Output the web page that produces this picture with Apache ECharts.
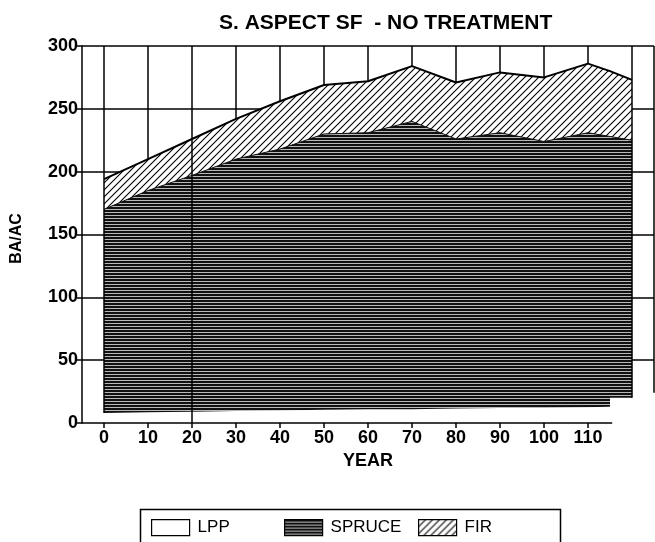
<!DOCTYPE html>
<html><head><meta charset="utf-8">
<script src="https://cdn.jsdelivr.net/npm/echarts@6/dist/echarts.min.js"></script>
<style>html,body{margin:0;padding:0;background:#fff}#c{width:655px;height:542px}</style>
</head><body><div id="c"></div>
<script>
// ---- data ----
const years     = [0, 10, 20, 30, 40, 50, 60, 70, 80, 90, 100, 110, 115, 115, 120];
const lppTop    = [8, 8.5, 9, 9.5, 10, 10.5, 11, 11, 11.5, 12, 12, 12.5, 13, 20, 20];
const spruceTop = [170, 185, 197, 210, 218, 230, 231, 240, 226, 231, 224, 231, 228, 228, 225];
const firTop    = [194, 210, 226, 242, 256, 269, 272, 284, 271, 279, 275, 286, 280, 280, 273];
const xTickLabels = [0, 10, 20, 30, 40, 50, 60, 70, 80, 90, 100, 110];
const gridYears   = [10, 30, 40, 50, 60, 70, 80, 90, 100, 110];
const seriesNames = ['LPP', 'SPRUCE', 'FIR'];

function pairs(v) { return years.map((y, i) => [y, v[i]]); }

function sprucePattern() {
  const c = document.createElement('canvas'); c.width = 4; c.height = 3;
  const g = c.getContext('2d');
  g.fillStyle = '#b8b8b8'; g.fillRect(0, 0, 4, 3);
  g.fillStyle = '#111'; g.fillRect(0, 0, 4, 2);
  return c;
}
function hatchPattern() {
  const s = 7;
  const c = document.createElement('canvas'); c.width = s; c.height = s;
  const g = c.getContext('2d');
  g.fillStyle = '#fff'; g.fillRect(0, 0, s, s);
  g.strokeStyle = '#000'; g.lineWidth = 1.1;
  g.beginPath();
  g.moveTo(-1, s + 1); g.lineTo(s + 1, -1);
  g.moveTo(-1, 1); g.lineTo(1, -1);
  g.moveTo(s - 1, s + 1); g.lineTo(s + 1, s - 1);
  g.stroke();
  return c;
}
const spruceFill = { image: sprucePattern(), repeat: 'repeat' };
const firFill = { image: hatchPattern(), repeat: 'repeat' };

const chart = echarts.init(document.getElementById('c'), null, { renderer: 'canvas' });
const font = 'Liberation Sans, Arial, Helvetica, sans-serif';

function legendFor(name, left, fill) {
  return {
    left: left, top: 514, itemWidth: 38, itemHeight: 16, itemGap: 0, selectedMode: false,
    textStyle: { fontFamily: font, fontSize: 17, color: '#000', padding: [0, 0, 0, 3] },
    data: [{ name: name, icon: 'rect', itemStyle: { color: fill, borderColor: '#000', borderWidth: 1.2 } }]
  };
}

const last = years.length - 1;

chart.setOption({
  animation: false,
  backgroundColor: '#fff',
  title: {
    text: 'S. ASPECT SF  - NO TREATMENT', left: 214, top: 8,
    textStyle: { fontFamily: font, fontSize: 21, fontWeight: 'bold', color: '#000' }
  },
  grid: { left: 82, right: 1, top: 46, bottom: 119, outerBoundsMode: 'none', containLabel: false },
  legend: [
    legendFor(seriesNames[0], 146, '#fff'),
    legendFor(seriesNames[1], 279, spruceFill),
    legendFor(seriesNames[2], 413, firFill)
  ],
  graphic: [{
    type: 'rect', left: 138, top: 507, shape: { width: 420, height: 60 },
    style: { fill: 'none', stroke: '#000', lineWidth: 1.5 }, silent: true
  }],
  xAxis: {
    type: 'value', min: -5, max: 125,
    name: 'YEAR', nameLocation: 'middle', nameGap: 29,
    nameTextStyle: { fontFamily: font, fontSize: 18, fontWeight: 'bold', color: '#000' },
    axisLine: { show: false },
    axisTick: { show: true, customValues: xTickLabels, length: 5, lineStyle: { color: '#000', width: 1.5 } },
    axisLabel: { customValues: xTickLabels, fontFamily: font, fontSize: 18, fontWeight: 'bold', color: '#000', margin: 6 },
    splitLine: { show: false }
  },
  yAxis: {
    type: 'value', min: 0, max: 300, interval: 50,
    name: 'BA/AC', nameLocation: 'middle', nameGap: 57, nameRotate: 90,
    nameTextStyle: { fontFamily: font, fontSize: 16, fontWeight: 'bold', color: '#000', padding: [0, 8, 0, 0] },
    axisLine: { show: true, onZero: false, lineStyle: { color: '#000', width: 1.5 } },
    axisTick: { show: true, length: 5, lineStyle: { color: '#000', width: 1.5 } },
    axisLabel: { fontFamily: font, fontSize: 18, fontWeight: 'bold', color: '#000', margin: 4 },
    splitLine: { show: true, showMinLine: false, lineStyle: { color: '#000', width: 1.5 } }
  },
  series: [
    {
      name: 'gridlines', type: 'line', data: [], z: 1, silent: true, clip: false,
      markLine: {
        z: 1, silent: true, symbol: 'none', label: { show: false }, animation: false,
        lineStyle: { color: '#000', width: 1.5, type: 'solid' },
        data: gridYears.map(x => ({ xAxis: x }))
      }
    },
    {
      name: seriesNames[2], type: 'line', data: pairs(firTop), z: 2, symbol: 'none',
      lineStyle: { color: '#000', width: 2 }, itemStyle: { color: firFill },
      areaStyle: { color: firFill, opacity: 1 }
    },
    {
      name: seriesNames[1], type: 'line', data: pairs(spruceTop), z: 3, symbol: 'none',
      lineStyle: { color: '#111', width: 1 }, itemStyle: { color: spruceFill },
      areaStyle: { color: spruceFill, opacity: 1 }
    },
    {
      name: seriesNames[0], type: 'line', data: pairs(lppTop), z: 4, symbol: 'none',
      lineStyle: { width: 0, color: '#fff' }, itemStyle: { color: '#fff' },
      areaStyle: { color: '#fff', opacity: 1 }
    },
    {
      name: 'frame', type: 'line', data: [], z: 5, silent: true, clip: false,
      markLine: {
        z: 10, silent: true, symbol: 'none', label: { show: false }, animation: false,
        lineStyle: { color: '#000', width: 1.5, type: 'solid' },
        data: [
          [{ coord: [years[0], 300] }, { coord: [years[0], lppTop[0]] }],
          [{ coord: [20, 300] }, { coord: [20, 0] }],
          [{ coord: [years[last], 300] }, { coord: [years[last], lppTop[last]] }],
          [{ coord: [-5, 0] }, { coord: [115.5, 0] }],
          [{ coord: [125, 300] }, { coord: [125, 24] }]
        ]
      }
    }
  ]
});
</script></body></html>
